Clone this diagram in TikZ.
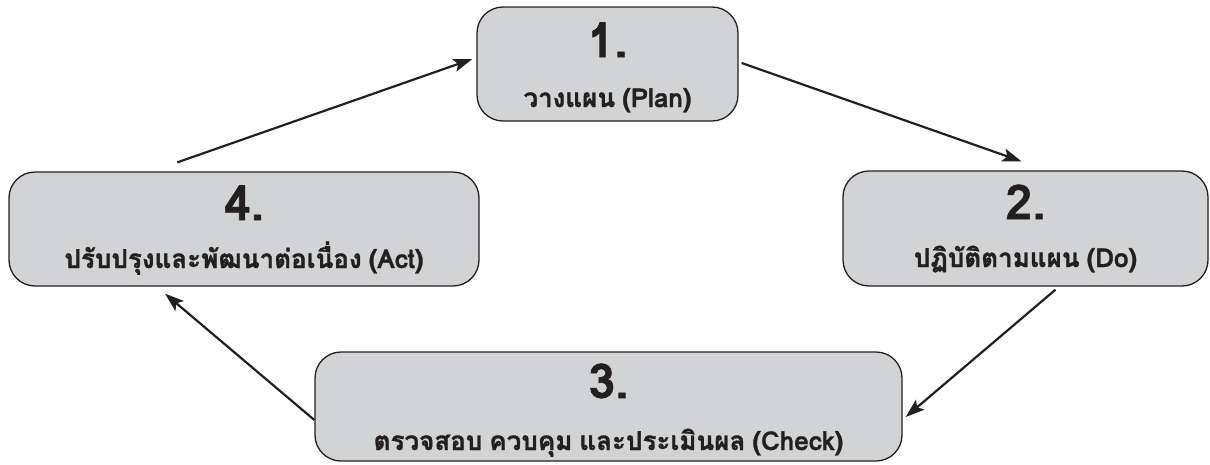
\documentclass[tikz,border=0pt]{standalone}
\usepackage{fontspec}
\newfontfamily\thaifont[Script=Thai,WordSpace=0.8,BoldFeatures={FakeBold=1.2}]{Loma}
\usetikzlibrary{arrows.meta}
\definecolor{boxfill}{HTML}{D1D3D4}
\definecolor{ink}{HTML}{231F20}
\begin{document}
\begin{tikzpicture}[x=1pt,y=-1pt,
  pbox/.style={draw=ink, line width=1.3pt, fill=boxfill, rounded corners=26pt, inner sep=0pt},
  numtext/.style={anchor=base, text=ink, inner sep=0pt, font=\thaifont\bfseries\fontsize{48}{48}\selectfont},
  captext/.style={anchor=base, text=ink, inner sep=0pt, font=\thaifont\bfseries\fontsize{26}{26}\selectfont},
  conn/.style={draw=ink, line width=2.2pt, -{Stealth[length=19pt,width=13pt,inset=4pt]}}]
\useasboundingbox (0,0) rectangle (1210,464);
\node[pbox, minimum width=261pt, minimum height=114pt] (b1) at (607.5,64) {};
\node[pbox, minimum width=365pt, minimum height=115pt] (b2) at (1025.5,228.5) {};
\node[pbox, minimum width=587pt, minimum height=109pt] (b3) at (608.5,406.5) {};
\node[pbox, minimum width=470pt, minimum height=114pt] (b4) at (244,229) {};
\node[numtext] (n1) at (607.5,57) {1.};
\node[captext] (c1) at (607.5,107) {วางแผน (Plan)};
\node[numtext] (n2) at (1025.5,219) {2.};
\node[captext] (c2) at (1025.5,267) {ปฏิบัติตามแผน (Do)};
\node[numtext] (n3) at (608.5,398) {3.};
\node[captext] (c3) at (608.5,450) {ตรวจสอบ ควบคุม และประเมินผล (Check)};
\node[numtext] (n4) at (244,220) {4.};
\node[captext] (c4) at (244,268) {ปรับปรุงและพัฒนาต่อเนื่อง (Act)};
\draw[conn] ([shift={(169,-9)}]b4.north west) -- ([shift={(-4,-5)}]b1.west);
\draw[conn] ([shift={(3,-1)}]b1.east) -- ([shift={(-4,-9)}]b2.north);
\draw[conn] ([shift={(30,3)}]b2.south) -- ([shift={(3,10.5)}]b3.east);
\draw[conn] ([shift={(0,13.5)}]b3.west) -- ([shift={(-79,7)}]b4.south);
\end{tikzpicture}
\end{document}
